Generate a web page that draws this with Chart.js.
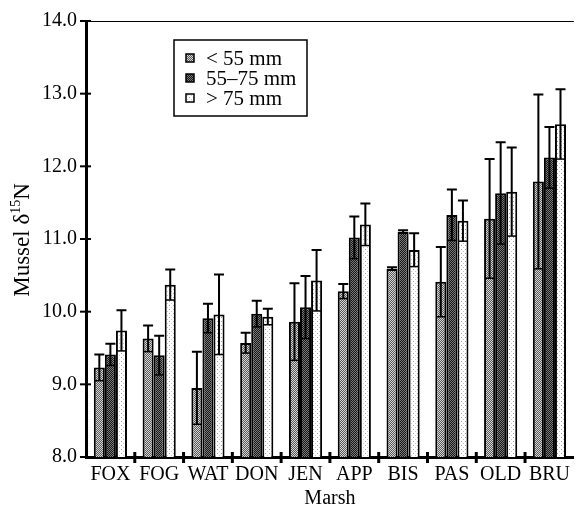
<!DOCTYPE html>
<html>
<head>
<meta charset="utf-8">
<script src="https://cdn.jsdelivr.net/npm/chart.js@4"></script>
<style>
  body { margin: 0; background: #fff; }
  canvas { display: block; }
</style>
</head>
<body>
<canvas id="musselChart" width="576" height="512"></canvas>
<script>
// Mussel d15N by marsh and shell size class
const marshes = ['FOX', 'FOG', 'WAT', 'DON', 'JEN', 'APP', 'BIS', 'PAS', 'OLD', 'BRU'];
const sizeLabels = ['< 55 mm', '55\u201375 mm', '> 75 mm'];
const small = [9.23, 9.63, 8.95, 9.57, 9.86, 10.28, 10.59, 10.41, 11.28, 11.79];
const smallErr = [0.18, 0.18, 0.50, 0.14, 0.53, 0.10, 0.02, 0.48, 0.82, 1.20];
const medium = [9.41, 9.40, 9.91, 9.97, 10.06, 11.02, 11.10, 11.33, 11.63, 12.12];
const mediumErr = [0.15, 0.27, 0.20, 0.18, 0.43, 0.29, 0.02, 0.35, 0.70, 0.42];
const large = [9.74, 10.37, 9.96, 9.93, 10.43, 11.20, 10.85, 11.25, 11.65, 12.58];
const largeErr = [0.28, 0.21, 0.55, 0.11, 0.42, 0.29, 0.23, 0.28, 0.61, 0.48];
const yTicks = [8, 9, 10, 11, 12, 13, 14];

const FONT = '"Liberation Serif", "Times New Roman", serif';

// small tiled textures to mimic the printed stipple fills
function makePattern(size, bg, dots) {
  const c = document.createElement('canvas');
  c.width = size; c.height = size;
  const g = c.getContext('2d');
  g.fillStyle = bg;
  g.fillRect(0, 0, size, size);
  dots.forEach(d => { g.fillStyle = d[2]; g.fillRect(d[0], d[1], 1, 1); });
  return g.createPattern(c, 'repeat');
}
const ctx0 = document.getElementById('musselChart').getContext('2d');
const fills = [
  makePattern(2, '#d6d6d6', [[1, 0, '#585858'], [0, 1, '#585858']]),
  makePattern(2, '#7a7a7a', [[1, 0, '#161616'], [0, 1, '#161616']]),
  makePattern(4, '#ffffff', [[1, 1, '#a0a0a0'], [3, 3, '#c8c8c8']])
];

// error bars: line through the bar, cap on top, tick at the lower end
const errorBars = {
  id: 'errorBars',
  afterDatasetsDraw(chart) {
    const ctx = chart.ctx;
    const y = chart.scales.y;
    ctx.save();
    ctx.strokeStyle = '#000';
    chart.data.datasets.forEach((ds, i) => {
      const meta = chart.getDatasetMeta(i);
      meta.data.forEach((bar, j) => {
        const v = ds.data[j], e = ds.errors[j];
        const top = y.getPixelForValue(v + e);
        const low = y.getPixelForValue(v - e);
        const half = bar.width / 2;
        ctx.lineWidth = 2;
        ctx.beginPath();
        ctx.moveTo(bar.x, low);
        ctx.lineTo(bar.x, top);
        ctx.moveTo(bar.x - 5, top);
        ctx.lineTo(bar.x + 5, top);
        ctx.stroke();
        ctx.lineWidth = 1.5;
        ctx.beginPath();
        ctx.moveTo(bar.x - half + 1, low);
        ctx.lineTo(bar.x + half - 1, low);
        ctx.stroke();
      });
    });
    ctx.restore();
  }
};

// axis tick marks that cross the axes, top frame line, y title, legend box
const decorations = {
  id: 'decorations',
  afterDraw(chart) {
    const ctx = chart.ctx;
    const { left, right, top, bottom } = chart.chartArea;
    const x = chart.scales.x, y = chart.scales.y;
    ctx.save();
    ctx.strokeStyle = '#000';

    ctx.lineWidth = 1;
    ctx.beginPath();
    ctx.moveTo(left, top + 0.5);
    ctx.lineTo(right, top + 0.5);
    ctx.stroke();

    ctx.lineWidth = 2;
    yTicks.forEach(v => {
      const py = y.getPixelForValue(v);
      ctx.beginPath();
      ctx.moveTo(left - 6, py);
      ctx.lineTo(left + 5, py);
      ctx.stroke();
    });

    ctx.lineWidth = 3;
    const step = x.getPixelForValue(1) - x.getPixelForValue(0);
    for (let i = 1; i < marshes.length; i++) {
      const px = x.getPixelForValue(i) - step / 2;
      ctx.beginPath();
      ctx.moveTo(px, bottom - 5);
      ctx.lineTo(px, bottom + 6);
      ctx.stroke();
    }

    // y title with superscript 15
    ctx.fillStyle = '#000';
    ctx.translate(22, 240);
    ctx.rotate(-Math.PI / 2);
    ctx.textBaseline = 'middle';
    const big = '23px ' + FONT, sup = '14px ' + FONT;
    ctx.font = big;
    const w1 = ctx.measureText('Mussel \u03b4').width;
    const w3 = ctx.measureText('N').width;
    ctx.font = sup;
    const w2 = ctx.measureText('15').width;
    let sx = -(w1 + w2 + w3) / 2;
    ctx.font = big;
    ctx.textAlign = 'left';
    ctx.fillText('Mussel \u03b4', sx, 1);
    ctx.font = sup;
    ctx.fillText('15', sx + w1, -6);
    ctx.font = big;
    ctx.fillText('N', sx + w1 + w2, 1);
    ctx.setTransform(1, 0, 0, 1, 0, 0);

    // legend
    const bx = left + 88, by = top + 19;
    ctx.lineWidth = 1.5;
    ctx.strokeRect(bx, by, 133, 76);
    ctx.font = '21px ' + FONT;
    ctx.textAlign = 'left';
    ctx.textBaseline = 'middle';
    chart.data.datasets.forEach((ds, i) => {
      const ry = by + 18 + i * 20;
      ctx.fillStyle = ds.backgroundColor;
      ctx.fillRect(bx + 12, ry - 4, 8, 8);
      ctx.lineWidth = 1.5;
      ctx.strokeRect(bx + 12, ry - 4, 8, 8);
      ctx.fillStyle = '#000';
      ctx.fillText(ds.label, bx + 32, ry + 1);
    });
    ctx.restore();
  }
};

new Chart(ctx0, {
  type: 'bar',
  data: {
    labels: marshes,
    datasets: [
      { label: sizeLabels[0], data: small, errors: smallErr, backgroundColor: fills[0] },
      { label: sizeLabels[1], data: medium, errors: mediumErr, backgroundColor: fills[1] },
      { label: sizeLabels[2], data: large, errors: largeErr, backgroundColor: fills[2] }
    ]
  },
  options: {
    responsive: false,
    animation: false,
    layout: { padding: { top: 20, right: 0, bottom: 0, left: 0 } },
    datasets: {
      bar: { borderColor: '#000', borderWidth: 2, categoryPercentage: 0.68, barPercentage: 1.0 }
    },
    plugins: { legend: { display: false }, tooltip: { enabled: false } },
    scales: {
      x: {
        offset: true,
        grid: { display: false, drawTicks: false },
        border: { display: true, color: '#000', width: 3 },
        ticks: { color: '#000', font: { family: FONT, size: 20 }, padding: 6, maxRotation: 0, autoSkip: false },
        title: { display: true, text: 'Marsh', color: '#000', font: { family: FONT, size: 20 }, padding: { top: 0, bottom: 1 } },
        afterFit(scale) { scale.height = 55; }
      },
      y: {
        min: 8, max: 14,
        afterBuildTicks(scale) { scale.ticks = yTicks.map(v => ({ value: v })); },
        grid: { display: false, drawTicks: false },
        border: { display: true, color: '#000', width: 3 },
        ticks: { color: '#000', font: { family: FONT, size: 20 }, padding: 9, callback: v => v.toFixed(1) },
        afterFit(scale) { scale.width = 86; }
      }
    }
  },
  plugins: [errorBars, decorations]
});
</script>
</body>
</html>
